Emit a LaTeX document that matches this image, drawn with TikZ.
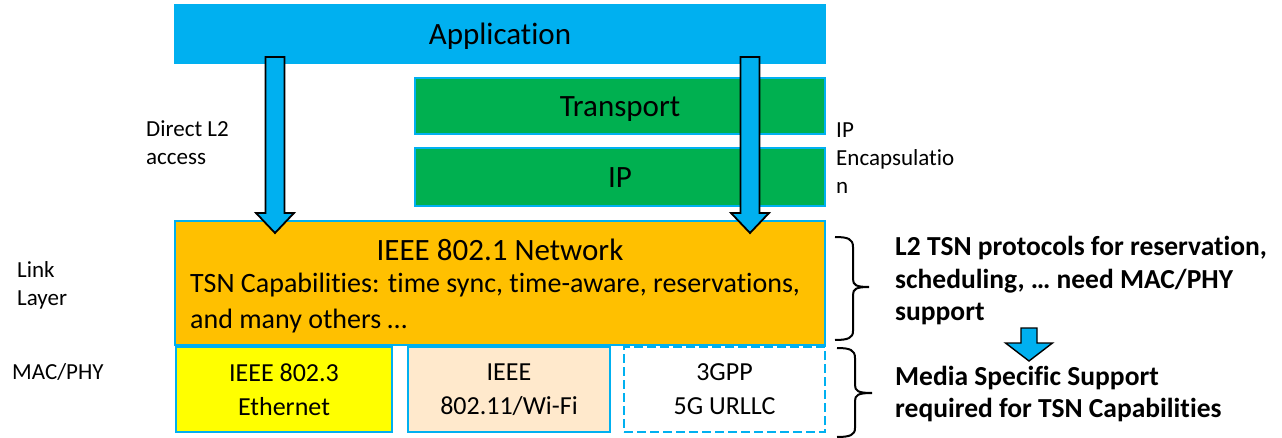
\documentclass[tikz,border=0pt]{standalone}
\usepackage{fontspec}
\setmainfont{Carlito}[RawFeature={-liga;-clig;-calt;-dlig}]
\usetikzlibrary{calc}
\newcommand{\tIlig}{t\kern0pt i}
\newcommand{\fIlig}{f\kern0pt i}
\definecolor{appblue}{HTML}{00B0F0}
\definecolor{laygreen}{HTML}{00B050}
\definecolor{netorange}{HTML}{FFC000}
\definecolor{ethyellow}{HTML}{FFFF00}
\definecolor{wifipeach}{HTML}{FFE9CC}
\begin{document}
\begin{tikzpicture}[x=1pt,y=-1pt,
  layerbox/.style={rectangle, inner sep=0pt, outer sep=0pt, draw=appblue, line width=1.5pt},
  bigtext/.style={font=\fontsize{31}{36}\selectfont, text height=24pt, text depth=3pt},
  medtext/.style={font=\fontsize{28}{36}\selectfont, align=left, inner sep=0pt},
  boxtext/.style={font=\fontsize{26}{34}\selectfont, align=center},
  sidelabel/.style={font=\fontsize{23}{28}\selectfont, align=left, inner sep=0pt, anchor=west},
  boldlabel/.style={font=\fontsize{27.5}{32.5}\selectfont\bfseries, align=left, inner sep=0pt, anchor=west},
  blockarrow/.style={fill=appblue, draw=black, line width=1.8pt, line join=miter},
  bracepath/.style={draw=black, line width=2pt}
]
\useasboundingbox (0,0) rectangle (1282,438);

% layers
\node[layerbox, fill=appblue, draw=appblue, minimum width=650pt, minimum height=58pt, bigtext] (app) at (500,34) {Applica\tIlig{}on};
\node[layerbox, fill=laygreen, minimum width=410pt, minimum height=56pt, bigtext] (transport) at (620,106) {Transport};
\node[layerbox, fill=laygreen, minimum width=410pt, minimum height=58pt, bigtext] (ip) at (620,177) {IP};
\node[layerbox, fill=netorange, minimum width=650pt, minimum height=124pt] (net) at (500,283) {};
\node[bigtext, inner sep=0pt] (nettitle) at (500,250) {IEEE 802.1 Network};
\node[medtext, anchor=west] (netcap) at (190,303) {TSN Capabili\tIlig{}es: \tIlig{}me sync, \tIlig{}me-aware, reserva\tIlig{}ons,\\and many others …};

% media
\node[layerbox, fill=ethyellow, minimum width=216pt, minimum height=85pt, boxtext] (eth) at (284,389.5) {IEEE 802.3\\Ethernet};
\node[layerbox, fill=wifipeach, minimum width=202pt, minimum height=85pt, boxtext] (wifi) at (509,389.5) {IEEE\\802.11/Wi-Fi};
\node[layerbox, fill=white, line width=2pt, dash pattern=on 9pt off 4pt, minimum width=201pt, minimum height=85pt, boxtext] (fiveg) at (724.5,389.5) {3GPP\\5G URLLC};

% side labels
\node[sidelabel] (direct) at (146,143) {Direct L2\\access};
\node[sidelabel] (ipenc) at (836,158) {IP\\Encapsula\tIlig{}o\\n};
\node[sidelabel] (link) at (17,285) {Link\\Layer};
\node[sidelabel] (macphy) at (12,372) {MAC/PHY};

% block arrows from Application to the 802.1 network
\coordinate (a1s) at ([xshift=100pt,yshift=6pt]app.south west);
\coordinate (a1e) at ([xshift=100pt,yshift=-12pt]net.north west);
\coordinate (a2s) at ([xshift=575pt,yshift=6pt]app.south west);
\coordinate (a2e) at ([xshift=575pt,yshift=-12pt]net.north west);
\draw[blockarrow] (a1s) ++(-9.5,0) -- ($(a1e)+(-9.5,-20)$) -- ++(-9.5,0) -- (a1e) -- ++(19,-20) -- ++(-9.5,0) -- ($(a1s)+(9.5,0)$) -- cycle;
\draw[blockarrow] (a2s) ++(-9.5,0) -- ($(a2e)+(-9.5,-20)$) -- ++(-9.5,0) -- (a2e) -- ++(19,-20) -- ++(-9.5,0) -- ($(a2s)+(9.5,0)$) -- cycle;

% braces
\draw[bracepath] (835,237) .. controls (848,237) and (853,239) .. (853,247) -- (853,279)
  .. controls (853,285) and (856,287) .. (869,287)
  .. controls (856,287) and (853,289) .. (853,295) -- (853,331)
  .. controls (853,338) and (848,340) .. (835,340);
\draw[bracepath] (837,348) .. controls (850,348) and (855,350) .. (855,358) -- (855,385)
  .. controls (855,391) and (858,393) .. (872,393)
  .. controls (858,393) and (855,395) .. (855,401) -- (855,428)
  .. controls (855,435) and (850,437) .. (837,437);

% right texts
\node[boldlabel] (l2tsn) at (895,281) {L2 TSN protocols for reserva\tIlig{}on,\\scheduling, … need MAC/PHY\\support};
\node[boldlabel] (media) at (895,394) {Media Speci\fIlig{}c Support\\required for TSN Capabili\tIlig{}es};
\coordinate (a3s) at (1029,328);
\coordinate (a3e) at (1029,361);
\draw[blockarrow, line width=1.4pt] (a3s) ++(-8,0) -- ++(0,15) -- ++(-15.5,0) -- (a3e) -- ++(23.5,-18) -- ++(-15.5,0) -- ++(0,-15) -- cycle;
\end{tikzpicture}
\end{document}
